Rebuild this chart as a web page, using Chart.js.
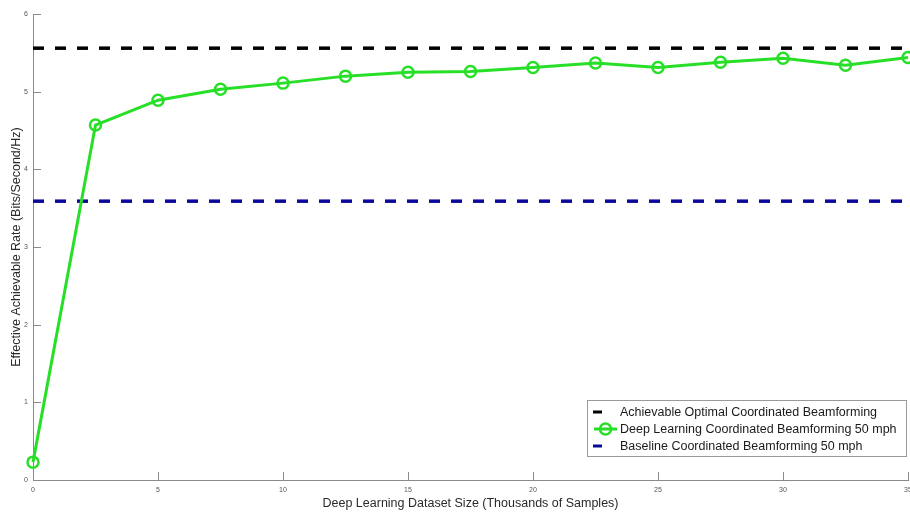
<!DOCTYPE html>
<html>
<head>
<meta charset="utf-8">
<script src="https://cdn.jsdelivr.net/npm/chart.js@4/dist/chart.umd.min.js"></script>
<style>
  html, body { margin: 0; padding: 0; background: #fff; overflow: hidden; }
  #wrap { width: 910px; height: 512px; position: relative; }
</style>
</head>
<body>
<div id="wrap"><canvas id="c" width="910" height="512"></canvas></div>
<script>
// Dataset sizes (thousands of samples)
const datasetSizes = [0, 2.5, 5, 7.5, 10, 12.5, 15, 17.5, 20, 22.5, 25, 27.5, 30, 32.5, 35];
// Effective achievable rate of the deep-learning coordinated beamforming (bits/s/Hz)
const deepLearningRate = [0.23, 4.57, 4.89, 5.03, 5.11, 5.20, 5.25, 5.26, 5.31, 5.37, 5.31, 5.38, 5.43, 5.34, 5.44];
// Reference levels
const optimalRate = 5.56;
const baselineRate = 3.59;
// Axis ranges and tick steps
const xRange = [0, 35];
const yRange = [0, 6];
const xStep = 5;
const yStep = 1;
// Series names
const seriesNames = [
  'Achievable Optimal Coordinated Beamforming',
  'Deep Learning Coordinated Beamforming 50 mph',
  'Baseline Coordinated Beamforming 50 mph'
];

const GREEN = '#28df28';
const BLACK = '#000000';
const BLUE = '#0a0a9a';
const AXIS = '#8a8a8a';
const FONT = '"Liberation Sans", Arial, sans-serif';

const flatLine = (v) => [{ x: xRange[0], y: v }, { x: xRange[1], y: v }];

// Inward tick marks on the left and bottom axes
const innerTicks = {
  id: 'innerTicks',
  afterDraw(chart) {
    const { ctx, chartArea } = chart;
    const xs = chart.scales.x, ys = chart.scales.y;
    ctx.save();
    ctx.strokeStyle = AXIS;
    ctx.lineWidth = 1;
    ctx.beginPath();
    xs.ticks.forEach(t => {
      const px = Math.round(xs.getPixelForValue(t.value)) + 0.5;
      ctx.moveTo(px, chartArea.bottom);
      ctx.lineTo(px, chartArea.bottom - 8);
    });
    ys.ticks.forEach(t => {
      const py = Math.round(ys.getPixelForValue(t.value)) + 0.5;
      ctx.moveTo(chartArea.left, py);
      ctx.lineTo(chartArea.left + 8, py);
    });
    ctx.stroke();
    ctx.restore();
  }
};

// Boxed legend in the lower right of the plot
const boxLegend = {
  id: 'boxLegend',
  afterDraw(chart) {
    const { ctx } = chart;
    const box = { x: 587.5, y: 400.5, w: 319, h: 56 };
    ctx.save();
    ctx.fillStyle = '#fff';
    ctx.fillRect(box.x, box.y, box.w, box.h);
    ctx.strokeStyle = '#9a9a9a';
    ctx.lineWidth = 1;
    ctx.strokeRect(box.x, box.y, box.w, box.h);
    ctx.font = '12.5px ' + FONT;
    ctx.textBaseline = 'middle';
    const rows = [412, 429, 446];
    seriesNames.forEach((name, i) => {
      const ds = chart.data.datasets.find(d => d.label === name);
      const y = rows[i];
      ctx.strokeStyle = ds.borderColor;
      ctx.lineWidth = 3;
      ctx.beginPath();
      if (ds.pointRadius > 0) {
        ctx.moveTo(594, y); ctx.lineTo(617, y);
        ctx.stroke();
        ctx.beginPath();
        ctx.lineWidth = 2.5;
        ctx.arc(605.5, y, 5.5, 0, Math.PI * 2);
        ctx.stroke();
      } else {
        ctx.moveTo(593, y); ctx.lineTo(602, y);
        ctx.stroke();
      }
      ctx.fillStyle = '#1a1a1a';
      ctx.fillText(ds.label, 620, y + 0.5);
    });
    ctx.restore();
  }
};

new Chart(document.getElementById('c'), {
  type: 'line',
  data: {
    datasets: [
      {
        label: seriesNames[0],
        data: flatLine(optimalRate),
        borderColor: BLACK,
        borderWidth: 3.5,
        borderDash: [11, 11],
        pointRadius: 0,
        order: 2
      },
      {
        label: seriesNames[1],
        data: datasetSizes.map((x, i) => ({ x, y: deepLearningRate[i] })),
        borderColor: GREEN,
        borderWidth: 3,
        pointRadius: 5.5,
        pointBorderWidth: 2.5,
        pointBorderColor: GREEN,
        pointBackgroundColor: 'rgba(0,0,0,0)',
        pointHoverRadius: 5.5,
        clip: false,
        order: 0
      },
      {
        label: seriesNames[2],
        data: flatLine(baselineRate),
        borderColor: BLUE,
        borderWidth: 3.5,
        borderDash: [11, 11],
        pointRadius: 0,
        order: 1
      }
    ]
  },
  options: {
    responsive: false,
    animation: false,
    events: [],
    layout: { autoPadding: false, padding: { top: 14, right: 2, left: 0, bottom: 0 } },
    plugins: { legend: { display: false }, tooltip: { enabled: false } },
    scales: {
      x: {
        type: 'linear',
        min: xRange[0], max: xRange[1],
        grid: { display: false, drawTicks: false, tickLength: 0 },
        border: { display: true, color: AXIS, width: 1 },
        ticks: {
          stepSize: xStep,
          padding: 6,
          color: '#555',
          font: { family: FONT, size: 7 },
          maxRotation: 0
        },
        title: {
          display: true,
          text: 'Deep Learning Dataset Size (Thousands of Samples)',
          color: '#2a2a2a',
          font: { family: FONT, size: 12.5 },
          padding: { top: 0, bottom: 1 }
        },
        afterFit(s) { s.height = 32; s.paddingLeft = 0; s.paddingRight = 0; }
      },
      y: {
        type: 'linear',
        min: yRange[0], max: yRange[1],
        grid: { display: false, drawTicks: false, tickLength: 0 },
        border: { display: true, color: AXIS, width: 1 },
        ticks: {
          stepSize: yStep,
          padding: 5,
          color: '#555',
          font: { family: FONT, size: 7 }
        },
        title: {
          display: true,
          text: 'Effective Achievable Rate (Bits/Second/Hz)',
          color: '#2a2a2a',
          font: { family: FONT, size: 12.5 },
          padding: { top: 9, bottom: 0 }
        },
        afterFit(s) { s.width = 33; s.paddingTop = 0; s.paddingBottom = 0; }
      }
    }
  },
  plugins: [innerTicks, boxLegend]
});
</script>
</body>
</html>
